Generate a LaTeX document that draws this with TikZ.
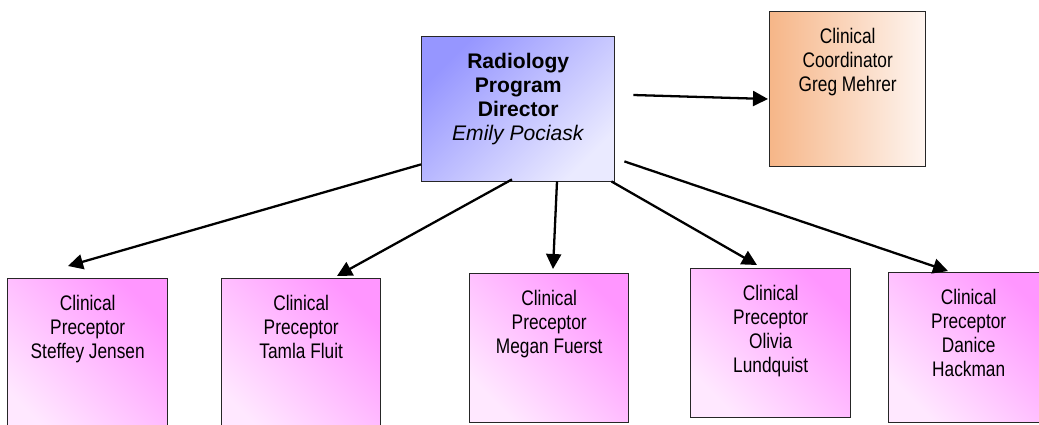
\documentclass[tikz,border=0pt]{standalone}
\usepackage{fontspec}
\setmainfont{Liberation Sans}
\newfontfamily\narrowfont[FakeStretch=0.82]{Liberation Sans}
\usetikzlibrary{arrows.meta}
\definecolor{dirdark}{RGB}{150,150,255}
\definecolor{dirlight}{RGB}{234,234,255}
\definecolor{coorddark}{RGB}{246,182,136}
\definecolor{coordlight}{RGB}{254,245,240}
\definecolor{precdark}{RGB}{255,150,255}
\definecolor{preclight}{RGB}{255,232,255}
\newdimen\px \px=0.02cm
\newcommand{\boxtext}[3]{\parbox[t][\dimexpr#2\px-34\px\relax][t]{#1\px}{\centering#3}}

\begin{document}
\begin{tikzpicture}[x=0.02cm,y=-0.02cm,
  box/.style={draw=black!85,line width=0.8pt,inner xsep=0pt,inner ysep=17\px,
    anchor=north west,font=\fontsize{12pt}{13.6pt}\selectfont},
  dirbox/.style={box,top color=dirdark,bottom color=dirlight,shading angle=45},
  coordbox/.style={box,left color=coorddark,right color=coordlight,narrowfont},
  precbox/.style={box,top color=precdark,bottom color=preclight,shading angle=-45,narrowfont},
  narrowfont/.style={font=\narrowfont\fontsize{12pt}{13.6pt}\selectfont},
  conn/.style={-{Triangle[length=0.3cm,width=0.3cm]},line width=1.3pt}]
  \useasboundingbox (0,0) rectangle (1039,424);
  \clip (0,0) rectangle (1039,424);

  \node[dirbox]   (dir)   at (421,36)  {\boxtext{193}{145}{\textbf{Radiology}\\\textbf{Program}\\\textbf{Director}\\\textit{Emily Pociask}}};
  \node[coordbox] (coord) at (769,11)  {\boxtext{156}{155}{Clinical\\Coordinator\\Greg Mehrer}};

  \node[precbox]  (p1)    at (7,278)   {\boxtext{160}{160}{Clinical\\Preceptor\\Steffey Jensen}};
  \node[precbox]  (p2)    at (221,278) {\boxtext{159}{160}{Clinical\\Preceptor\\Tamla Fluit}};
  \node[precbox]  (p3)    at (469,273) {\boxtext{159}{149}{Clinical\\Preceptor\\Megan Fuerst}};
  \node[precbox]  (p4)    at (690,268) {\boxtext{160}{149}{Clinical\\Preceptor\\Olivia\\Lundquist}};
  \node[precbox]  (p5)    at (888,272) {\boxtext{160}{150}{Clinical\\Preceptor\\Danice\\Hackman}};

  \draw[conn] ([shift={(18,59)}]dir.north east) -- ([shift={(-1,88)}]coord.north west);
  \draw[conn] ([shift={(0,-18)}]dir.south west) -- ([shift={(61,-12)}]p1.north west);
  \draw[conn] ([shift={(91,-3)}]dir.south west) -- ([shift={(116,-2)}]p2.north west);
  \draw[conn] ([shift={(136,-1)}]dir.south west) -- ([shift={(84,-4)}]p3.north west);
  \draw[conn] ([shift={(-4,-1)}]dir.south east) -- ([shift={(67,-3)}]p4.north west);
  \draw[conn] ([shift={(9,-21)}]dir.south east) -- ([shift={(60,-1)}]p5.north west);
\end{tikzpicture}
\end{document}
